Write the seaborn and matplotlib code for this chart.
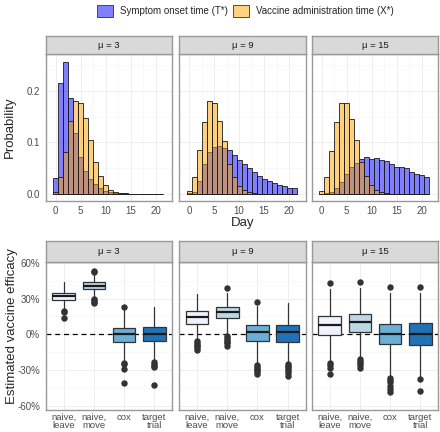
import pandas as pd
import matplotlib
matplotlib.use("Agg")
import matplotlib.pyplot as plt
import matplotlib.patches as mpatches
import seaborn as sns

# ---- data ----
mu_values = [3, 9, 15]
days = list(range(22))

onset_mu3 = [0.032, 0.215, 0.256, 0.185, 0.119, 0.071, 0.045, 0.030, 0.020, 0.012, 0.007,
             0.0045, 0.003, 0.002, 0.0015, 0.001, 0.001, 0.0005, 0.0005, 0.0003, 0.0002, 0.0001]
onset_mu9 = [0.002, 0.005, 0.026, 0.058, 0.081, 0.091, 0.093, 0.090, 0.086, 0.075, 0.066,
             0.059, 0.050, 0.043, 0.036, 0.030, 0.026, 0.021, 0.018, 0.015, 0.013, 0.012]
onset_mu15 = [0.001, 0.002, 0.004, 0.012, 0.024, 0.039, 0.052, 0.060, 0.068, 0.072, 0.069,
              0.070, 0.066, 0.065, 0.059, 0.053, 0.053, 0.050, 0.043, 0.039, 0.037, 0.033]
vacc_mu3 = [0.005, 0.034, 0.081, 0.141, 0.179, 0.177, 0.148, 0.104, 0.063, 0.036, 0.018,
            0.008, 0.004, 0.002, 0.001, 0.0005, 0.0003, 0.0002, 0.0001, 0, 0, 0]
vacc_mu9 = [0.007, 0.033, 0.086, 0.140, 0.180, 0.177, 0.141, 0.103, 0.059, 0.034, 0.016,
            0.008, 0.004, 0.002, 0.001, 0.0005, 0.0003, 0.0002, 0.0001, 0, 0, 0]
vacc_mu15 = [0.007, 0.034, 0.084, 0.140, 0.176, 0.177, 0.146, 0.105, 0.062, 0.035, 0.018,
             0.008, 0.004, 0.002, 0.001, 0.0005, 0.0003, 0.0002, 0.0001, 0, 0, 0]

onset_label = "Symptom onset time (T*)"
vacc_label = "Vaccine administration time (X*)"

methods = ["naive,\nleave", "naive,\nmove", "cox", "target\ntrial"]
method_colors = ["#EFF3FF", "#BDD7E7", "#6BAED6", "#2171B5"]

# box summaries (in %): whislo, q1, median, q3, whishi, outliers
box_mu3 = [
    (21.3, 28.8, 32.1, 34.8, 43.4, [19.9, 18.6, 14.0]),
    (31.0, 37.9, 40.6, 43.4, 50.5, [53.0, 51.8, 29.8, 28.5, 27.2, 26.0]),
    (-21.0, -6.1, 0.3, 5.5, 20.0, [22.7, -24.0, -25.0, -29.0, -40.9]),
    (-21.5, -5.8, 0.6, 6.1, 22.7, [-23.0, -24.5, -26.0, -27.5, -42.3]),
]
box_mu9 = [
    (-3.5, 8.8, 14.7, 19.4, 33.7, [-5.5, -7.0, -8.5, -10.0, -11.5, -13.3]),
    (0.0, 13.5, 18.5, 23.2, 35.0, [38.4, -1.5, -3.0, -4.5, -6.0, -7.5, -9.5]),
    (-24.0, -5.8, 1.7, 7.5, 24.0, [27.4, -25.7, -27.0, -28.5, -30.0, -31.5, -33.2]),
    (-23.0, -6.1, 1.7, 7.5, 26.0, [-24.3, -26.0, -27.5, -29.0, -30.5, -32.0, -34.6]),
]
box_mu15 = [
    (-21.0, -0.3, 8.0, 15.2, 38.0, [42.6, -23.5, -25.7, -27.9, -33.2]),
    (-18.5, 2.2, 10.2, 17.1, 39.0, [43.4, -20.5, -22.0, -23.5, -25.5, -28.3]),
    (-34.0, -8.3, 0.6, 9.1, 35.0, [39.8, -36.2, -38.0, -40.0, -43.0, -45.5, -47.8]),
    (-35.0, -9.1, 0.0, 9.7, 35.0, [39.8, -37.6, -47.3]),
]

onset = {3: onset_mu3, 9: onset_mu9, 15: onset_mu15}
vacc = {3: vacc_mu3, 9: vacc_mu9, 15: vacc_mu15}
boxes = {3: box_mu3, 9: box_mu9, 15: box_mu15}

rows = []
for mu in mu_values:
    for d, p in zip(days, onset[mu]):
        rows.append((mu, d, p, onset_label))
    for d, p in zip(days, vacc[mu]):
        rows.append((mu, d, p, vacc_label))
hist_df = pd.DataFrame(rows, columns=["mu", "day", "prob", "time"])

# ---- style ----
sns.set_style("white")
plt.rcParams["font.family"] = ["Liberation Sans", "DejaVu Sans"]

W, H = 440, 432
fig = plt.figure(figsize=(W / 100, H / 100), dpi=100)


def px(x0, y0, x1, y1):
    return [x0 / W, 1 - y1 / H, (x1 - x0) / W, (y1 - y0) / H]


panel_x = [(45.7, 172.3), (179.0, 305.7), (311.7, 438.3)]
border = "#999999"
tick_col = "#4D4D4D"
grid_col = "#EBEBEB"


def style_panel(ax):
    for s in ax.spines.values():
        s.set_color(border)
        s.set_linewidth(1.0)
    ax.tick_params(axis="both", length=2.5, width=0.6, color=border,
                   labelcolor=tick_col, labelsize=7, pad=1.5)
    ax.grid(True, which="major", color=grid_col, lw=0.6)
    ax.grid(True, which="minor", color="#F4F4F4", lw=0.4)
    ax.set_axisbelow(True)
    ax.set_xlabel("")
    ax.set_ylabel("")


def add_strip(x0, x1, y0, y1, mu):
    sa = fig.add_axes(px(x0, y0, x1, y1))
    sa.set_facecolor("#D9D9D9")
    sa.set_xticks([])
    sa.set_yticks([])
    for s in sa.spines.values():
        s.set_color(border)
        s.set_linewidth(1.0)
    sa.text(0.5, 0.5, f"\u03bc = {mu}", ha="center", va="center",
            fontsize=6.8, color="#1A1A1A", transform=sa.transAxes)


pal = {onset_label: "#0000FF", vacc_label: "#FFA500"}

# ---- top row: distributions ----
for i, mu in enumerate(mu_values):
    x0, x1 = panel_x[i]
    ax = fig.add_axes(px(x0, 54.3, x1, 200.7))
    sns.histplot(data=hist_df[hist_df["mu"] == mu], x="day", weights="prob",
                 hue="time", hue_order=[vacc_label, onset_label], palette=pal,
                 discrete=True, multiple="layer", alpha=0.5, edgecolor="#1A1A1A",
                 linewidth=0.6, legend=False, ax=ax)
    ax.set_xlim(-2.0, 23.3)
    ax.set_ylim(-0.0124, 0.270)
    ax.set_xticks([0, 5, 10, 15, 20])
    ax.set_xticks([2.5, 7.5, 12.5, 17.5], minor=True)
    ax.set_yticks([0.0, 0.1, 0.2])
    ax.set_yticks([0.05, 0.15, 0.25], minor=True)
    style_panel(ax)
    ax.tick_params(which="minor", length=0)
    if i == 0:
        ax.set_yticklabels(["0.0", "0.1", "0.2"])
    else:
        ax.set_yticklabels([])
        ax.tick_params(axis="y", length=0)
    add_strip(x0, x1, 36.0, 54.3, mu)

# ---- bottom row: estimated efficacy ----
for i, mu in enumerate(mu_values):
    x0, x1 = panel_x[i]
    ax = fig.add_axes(px(x0, 262.0, x1, 409.5))
    stats = []
    for lo, q1, med, q3, hi, fl in boxes[mu]:
        stats.append(dict(whislo=lo / 100, q1=q1 / 100, med=med / 100,
                          q3=q3 / 100, whishi=hi / 100, fliers=[f / 100 for f in fl]))
    ax.axhline(0, color="black", lw=0.9, ls=(0, (4, 3)), zorder=1)
    bp = ax.bxp(stats, positions=range(len(methods)), widths=0.75,
                patch_artist=True, showcaps=False,
                boxprops=dict(edgecolor="#333333", linewidth=0.9),
                whiskerprops=dict(color="#333333", linewidth=0.9),
                medianprops=dict(color="#1A1A1A", linewidth=1.6),
                flierprops=dict(marker="o", markersize=3.6, markerfacecolor="#333333",
                                markeredgecolor="#333333"))
    for patch, c in zip(bp["boxes"], method_colors):
        patch.set_facecolor(c)
        patch.set_zorder(2)
    ax.set_xlim(-0.6, 3.6)
    ax.set_ylim(-0.627, 0.605)
    ax.set_xticks(range(len(methods)))
    ax.set_xticklabels(methods, linespacing=0.85)
    ax.set_yticks([-0.6, -0.3, 0.0, 0.3, 0.6])
    ax.set_yticks([-0.45, -0.15, 0.15, 0.45], minor=True)
    style_panel(ax)
    ax.tick_params(which="minor", length=0)
    ax.tick_params(axis="x", length=2, pad=0.5, labelsize=6.8)
    if i == 0:
        ax.set_yticklabels(["-60%", "-30%", "0%", "30%", "60%"])
    else:
        ax.set_yticklabels([])
        ax.tick_params(axis="y", length=0)
    add_strip(x0, x1, 241.0, 262.0, mu)

# ---- labels and legend ----
fig.text(10 / W, 1 - 127.5 / H, "Probability", rotation=90, ha="center", va="center",
         fontsize=9.5)
fig.text(12 / W, 1 - 326 / H, "Estimated vaccine efficacy", rotation=90, ha="center",
         va="center", fontsize=9.5)
fig.text(242.3 / W, 1 - 223 / H, "Day", ha="center", va="center", fontsize=9.5)

handles = [mpatches.Patch(facecolor="#7F7FFF", edgecolor="#333333", lw=0.6),
           mpatches.Patch(facecolor="#FFD27F", edgecolor="#333333", lw=0.6)]
fig.legend(handles, [onset_label, vacc_label], loc="center",
           bbox_to_anchor=(245.5 / W, 1 - 11 / H), ncol=2, frameon=False,
           fontsize=7, handlelength=1.6, handleheight=1.5, handletextpad=0.7,
           columnspacing=0.6, borderpad=0.1)

fig.savefig("out.png", dpi=100)
